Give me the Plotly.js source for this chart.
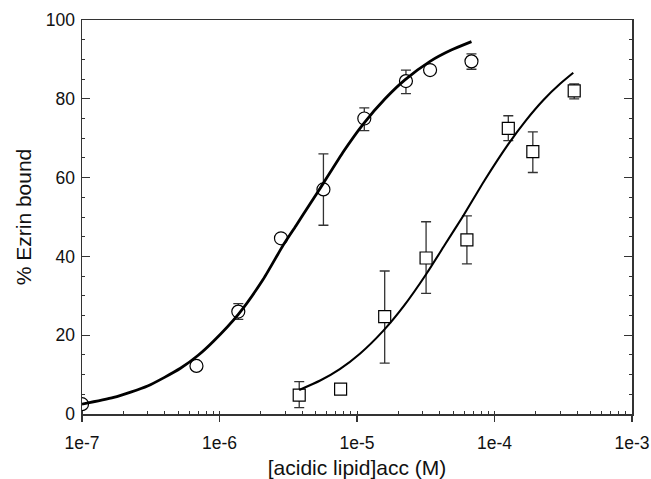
<!DOCTYPE html>
<html>
<head>
<meta charset="utf-8">
<script src="https://cdn.plot.ly/plotly-3.0.1.min.js"></script>
<style>html,body{margin:0;padding:0;background:#fff}#chart{width:651px;height:479px}</style>
</head>
<body>
<div id="chart"></div>
<script>
// Circles: ezrin bound vs acidic lipid (series 1)
const circX = [1e-7, 6.8e-7, 1.37e-6, 2.8e-6, 5.7e-6, 1.13e-5, 2.27e-5, 3.4e-5, 6.8e-5];
const circY = [2.5, 12.2, 26.0, 44.6, 57.0, 75.0, 84.5, 87.3, 89.5];
const circErrPlus = [null, null, 2.0, null, 9.0, 2.7, 2.8, null, 1.9];
const circErrMinus = [null, null, 2.0, null, 9.1, 3.1, 3.2, null, 2.0];

// Squares (series 2)
const sqX = [3.8e-6, 7.6e-6, 1.59e-5, 3.18e-5, 6.3e-5, 1.26e-4, 1.9e-4, 3.8e-4];
const sqY = [4.8, 6.3, 24.7, 39.6, 44.2, 72.5, 66.6, 82.0];
const sqErrPlus = [3.4, null, 11.6, 9.2, 6.1, 3.2, 5.0, 1.8];
const sqErrMinus = [3.2, null, 11.8, 9.0, 6.1, 3.1, 5.3, 2.0];

// Fit curves
const fit1X = [1e-7, 1.7e-7, 3.0e-7, 5.2e-7, 7.0e-7, 9.0e-7, 1.37e-6, 2.08e-6, 2.9e-6, 3.6e-6, 4.55e-6, 5.7e-6, 8.0e-6, 1.11e-5, 1.6e-5, 2.23e-5, 3.4e-5, 4.8e-5, 6.8e-5];
const fit1Y = [2.5, 4.2, 7.1, 11.6, 14.9, 18.4, 25.3, 34.2, 42.8, 47.8, 53.3, 58.6, 66.7, 73.6, 80.0, 84.8, 89.5, 92.3, 94.5];
const fit2X = [3.8e-6, 5.4e-6, 7.5e-6, 1.05e-5, 1.55e-5, 2.2e-5, 3.2e-5, 4.4e-5, 5.9e-5, 8.5e-5, 1.26e-4, 1.7e-4, 2.27e-4, 3.0e-4, 3.74e-4];
const fit2Y = [6.1, 8.5, 11.4, 15.3, 21.1, 27.5, 35.6, 43.2, 50.2, 59.4, 68.5, 74.6, 79.7, 83.8, 86.6];

const xTickVals = [1e-7, 1e-6, 1e-5, 1e-4, 1e-3];
const xTickText = ['1e-7', '1e-6', '1e-5', '1e-4', '1e-3'];

const FONT = 'Liberation Sans, Arial, sans-serif';
const errStyle = {type: 'data', symmetric: false, color: '#333', thickness: 1.3, width: 5};

const traces = [
  {x: circX, y: circY, mode: 'markers', type: 'scatter',
   marker: {symbol: 'circle', size: 13, color: '#fff', line: {color: '#000', width: 1.2}},
   error_y: Object.assign({array: circErrPlus, arrayminus: circErrMinus}, errStyle)},
  {x: sqX, y: sqY, mode: 'markers', type: 'scatter',
   marker: {symbol: 'square', size: 12, color: '#fff', line: {color: '#000', width: 1.2}},
   error_y: Object.assign({array: sqErrPlus, arrayminus: sqErrMinus}, errStyle)},
  {x: fit1X, y: fit1Y, mode: 'lines', type: 'scatter',
   line: {color: '#000', width: 2.8, shape: 'spline', smoothing: 0.6}},
  {x: fit2X, y: fit2Y, mode: 'lines', type: 'scatter',
   line: {color: '#000', width: 2.1, shape: 'spline', smoothing: 0.6}}
];

const layout = {
  width: 651, height: 479,
  margin: {l: 82, r: 19, t: 20, b: 65},
  paper_bgcolor: '#fff', plot_bgcolor: '#fff',
  showlegend: false,
  font: {family: FONT, size: 17.5, color: '#111'},
  xaxis: {
    type: 'log', range: [-7, -3], autorange: false,
    tickmode: 'array', tickvals: xTickVals, ticktext: xTickText,
    ticks: 'outside', ticklen: 6, tickwidth: 1.3, tickcolor: '#333',
    ticklabelstandoff: 6,
    minor: {ticks: 'inside', ticklen: 3, tickwidth: 1, tickcolor: '#333', dtick: 'D1', showgrid: false},
    showline: true, linecolor: '#333', linewidth: 1.5, mirror: true,
    showgrid: false, zeroline: false,
    title: {text: '[acidic lipid]acc (M)', font: {size: 21, family: FONT, color: '#111'}, standoff: 12}
  },
  yaxis: {
    range: [0, 100], autorange: false, dtick: 20,
    ticks: 'inside', ticklen: 8, tickwidth: 1.3, tickcolor: '#333',
    ticklabelstandoff: 2,
    minor: {ticks: 'inside', ticklen: 3, tickwidth: 1, tickcolor: '#333', dtick: 5, showgrid: false},
    showline: true, linecolor: '#333', linewidth: 1.5, mirror: 'ticks',
    showgrid: false, zeroline: false,
    title: {text: '% Ezrin bound', font: {size: 21, family: FONT, color: '#111'}, standoff: 8}
  }
};

Plotly.newPlot('chart', traces, layout, {displayModeBar: false, staticPlot: true});
</script>
</body>
</html>
